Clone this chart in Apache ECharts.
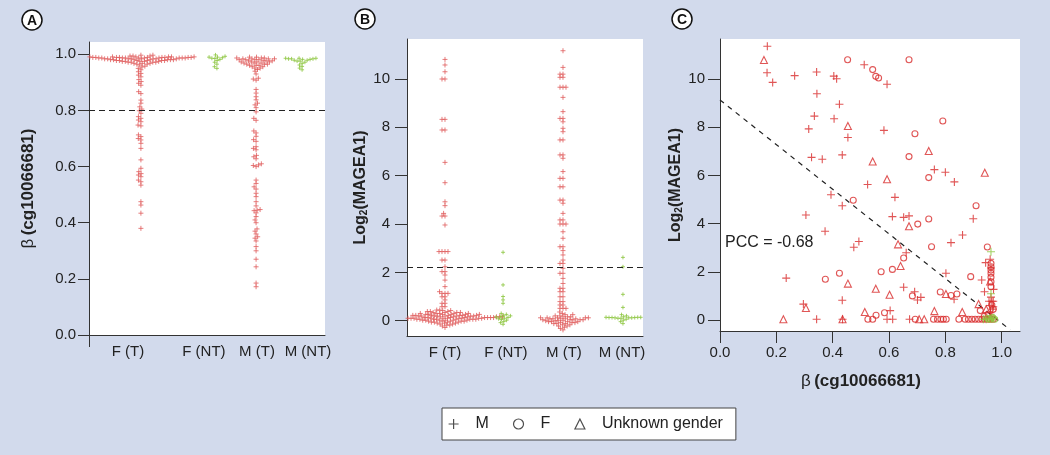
<!DOCTYPE html>
<html><head><meta charset="utf-8">
<script src="https://cdn.jsdelivr.net/npm/echarts@6/dist/echarts.min.js"></script>
<style>html,body{margin:0;padding:0;background:#d2daec;}#c{width:1050px;height:455px;}</style>
</head><body><div id="c"></div>
<script>
// ---------------- DATA ----------------
const groupLabels = ['F (T)', 'F (NT)', 'M (T)', 'M (NT)'];
const betaTicks = [0, 0.2, 0.4, 0.6, 0.8, 1.0];
const logTicks = [0, 2, 4, 6, 8, 10];
const betaCutoff = 0.8;
const logCutoff = 2.23;

// Panel A: beta (cg10066681)
const betaFT = [0.997,0.997,0.994,0.994,0.994,
  0.991,0.991,0.991,0.991,0.991,0.991,
  0.989,0.989,0.989,0.989,0.989,0.989,0.989,0.989,0.989,
  0.987,0.987,0.987,0.987,0.987,0.987,0.987,0.987,0.987,0.987,
  0.984,0.984,0.984,0.984,0.984,0.984,0.984,0.984,
  0.981,0.981,0.981,0.981,0.981,0.981,0.981,
  0.978,0.978,0.978,0.978,0.978,0.978,
  0.975,0.975,0.975,0.975,0.975,
  0.972,0.972,0.972,0.972,0.968,0.968,0.968,0.965,0.965,
  0.962,0.958,0.955,0.95,0.945,0.938,0.932,0.926,0.92,0.91,0.903,0.897,0.89,0.867,0.86,
  0.837,0.826,0.813,0.805,0.799,0.79,0.778,0.772,0.766,0.76,0.748,0.745,0.713,0.707,0.7,
  0.695,0.683,0.665,0.624,0.594,0.582,0.575,0.57,0.564,0.552,0.546,0.534,0.475,0.463,0.434,0.38];
const betaFNT = [0.998,0.993,0.99,0.99,0.988,0.986,0.985,0.982,0.978,0.972,0.965,0.956,0.95];
const betaMT = [0.99,0.99,0.987,0.987,0.987,
  0.984,0.984,0.984,0.984,0.981,0.981,0.981,0.981,
  0.977,0.977,0.977,0.977,0.973,0.973,0.973,0.973,
  0.969,0.969,0.969,0.965,0.965,0.965,0.961,0.961,0.961,0.956,0.956,0.951,0.951,0.946,0.94,
  0.93,0.915,0.912,0.908,0.875,0.862,0.849,0.838,0.826,0.82,0.81,0.795,0.772,0.765,0.727,
  0.72,0.708,0.696,0.69,0.671,0.665,0.66,0.64,0.635,0.628,0.61,0.606,0.604,0.6,0.552,0.54,
  0.528,0.52,0.505,0.493,0.475,0.46,0.447,0.445,0.443,0.435,0.422,0.41,0.4,0.378,0.37,0.36,
  0.35,0.345,0.335,0.315,0.3,0.27,0.243,0.185,0.172];
const betaMNT = [0.986,0.986,0.986,0.984,0.984,0.984,0.982,0.982,0.979,0.979,0.976,0.976,
  0.972,0.968,0.962,0.957,0.951,0.945];

// Panel B: log2(MAGEA1)
const logFT = [-0.28,-0.22,-0.18,-0.18,-0.14,-0.14,-0.1,-0.1,-0.1,-0.06,-0.06,-0.06,-0.06,
  -0.02,-0.02,-0.02,-0.02,-0.02,0.02,0.02,0.02,0.02,0.02,0.02,
  0.06,0.06,0.06,0.06,0.06,0.06,0.06,0.06,
  0.1,0.1,0.1,0.1,0.1,0.1,0.1,0.1,0.1,0.1,
  0.13,0.13,0.13,0.13,0.13,0.13,0.13,0.13,0.13,0.13,0.13,
  0.16,0.16,0.16,0.16,0.16,0.16,0.16,0.16,0.16,0.16,
  0.19,0.19,0.19,0.19,0.19,0.19,0.19,0.19,
  0.22,0.22,0.22,0.22,0.22,0.22,0.22,
  0.26,0.26,0.26,0.26,0.26,0.26,0.3,0.3,0.3,0.3,0.3,
  0.34,0.34,0.34,0.34,0.38,0.38,0.38,0.42,0.42,
  0.44,0.44,0.58,0.58,0.72,0.72,0.86,0.99,0.99,1.13,1.13,1.13,1.2,1.41,1.68,1.89,2.03,2.03,
  2.23,2.51,2.51,2.86,2.86,2.86,2.86,3.96,4.33,4.33,4.44,4.76,4.92,5.71,6.55,7.89,7.89,
  8.33,8.33,10.0,10.0,10.3,10.58,10.81];
const logFNT = [2.83,1.48,1.0,0.86,0.72,0.3,0.26,0.22,0.2,0.17,0.15,0.13,0.1,0.08,0.05,0.02,
  -0.03,-0.08,-0.15];
const logMT = [-0.38,-0.32,-0.27,-0.22,-0.22,-0.17,-0.17,-0.12,-0.12,-0.12,-0.08,-0.08,-0.08,
  -0.04,-0.04,-0.04,-0.04,0.0,0.0,0.0,0.0,0.04,0.04,0.04,0.04,0.04,
  0.08,0.08,0.08,0.08,0.08,0.12,0.12,0.12,0.12,0.12,0.16,0.16,0.16,0.2,0.2,0.25,0.25,0.3,0.36,
  0.51,0.51,0.51,0.65,0.65,0.79,0.79,0.99,0.99,1.2,1.2,1.34,1.34,1.54,1.75,1.96,1.96,2.17,
  2.37,2.37,2.51,2.72,2.9,3.06,3.06,3.41,3.68,4.0,4.0,4.0,4.17,4.17,4.44,4.86,4.99,4.99,
  5.54,5.54,5.89,5.89,6.17,6.72,6.86,6.86,7.48,7.48,7.82,7.96,8.23,8.37,8.37,8.65,9.24,
  9.66,9.66,9.66,10.07,10.07,10.2,10.2,10.48,11.17];
const logMNT = [2.62,2.23,1.09,0.55,0.25,0.2,0.16,0.14,0.14,0.14,0.13,0.13,0.13,0.12,0.12,
  0.12,0.1,0.1,0.06,0.02,-0.04,-0.12];

// Panel C: [beta, log2(MAGEA1)]
const scatM = [[0.168,11.36],[0.167,10.26],[0.187,9.86],[0.265,10.14],[0.343,10.29],[0.344,9.39],
  [0.335,8.46],[0.315,7.93],[0.325,6.75],[0.363,6.67],[0.404,10.12],[0.414,10.01],[0.424,8.95],
  [0.405,8.35],[0.454,7.57],[0.434,6.85],[0.394,5.2],[0.434,4.74],[0.305,4.36],[0.512,10.59],
  [0.593,9.78],[0.582,7.87],[0.524,5.62],[0.621,5.09],[0.612,4.29],[0.652,4.26],[0.671,4.32],
  [0.761,6.24],[0.8,6.13],[0.832,5.73],[0.899,4.2],[0.235,1.74],[0.373,3.68],[0.475,3.02],
  [0.493,3.26],[0.434,0.82],[0.296,0.66],[0.343,0.03],[0.593,0.03],[0.613,0.03],[0.673,0.03],
  [0.604,0.39],[0.661,2.79],[0.652,1.36],[0.691,1.17],[0.701,0.83],[0.713,0.94],[0.802,1.94],
  [0.831,0.86],[0.82,3.21],[0.861,3.53],[0.929,1.66],[0.939,1.17],[0.943,2.38],[0.959,2.52],
  [0.971,1.27],[0.435,0.03],[0.962,2.16],[0.955,0.78],[0.965,0.78],[0.97,0.78],[0.958,0.6],
  [0.968,0.45],[0.96,0.3],[0.965,0.15],[0.958,0.08],[0.97,0.55],[0.962,0.95]];
const scatF = [[0.453,10.8],[0.542,10.39],[0.553,10.11],[0.563,10.04],[0.671,10.8],[0.791,8.26],
  [0.692,7.73],[0.671,6.78],[0.741,5.91],[0.473,4.97],[0.702,3.98],[0.741,4.19],[0.909,4.74],
  [0.751,3.04],[0.949,3.03],[0.374,1.69],[0.424,1.94],[0.525,0.03],[0.542,0.03],[0.554,0.2],
  [0.572,2.0],[0.584,0.3],[0.612,2.1],[0.652,2.57],[0.683,1.0],[0.693,0.03],[0.758,0.03],
  [0.772,0.03],[0.784,0.03],[0.793,0.03],[0.803,0.03],[0.782,1.16],[0.82,1.02],[0.841,1.08],
  [0.848,0.03],[0.87,0.03],[0.882,0.03],[0.894,0.03],[0.906,0.03],[0.918,0.03],[0.89,1.8],
  [0.924,0.39],[0.962,2.35],[0.962,2.21],[0.962,2.07],[0.962,1.94],[0.962,1.77],[0.962,1.59],
  [0.962,1.38],[0.93,0.03],[0.94,0.03],[0.95,0.03],[0.96,0.03],[0.97,0.45],[0.965,0.62],
  [0.952,0.25],[0.97,0.03],[0.938,0.15]];
const scatU = [[0.156,10.79],[0.454,8.05],[0.542,6.58],[0.593,5.84],[0.741,7.01],[0.94,6.11],
  [0.671,3.89],[0.632,3.14],[0.641,2.24],[0.454,1.51],[0.553,1.3],[0.602,1.05],[0.514,0.33],
  [0.761,0.37],[0.86,0.33],[0.918,0.66],[0.225,0.03],[0.305,0.5],[0.707,0.03],[0.725,0.03],
  [0.802,1.08],[0.435,0.03],[0.959,1.6],[0.945,0.45]];
const scatMN = [[0.962,2.83],[0.962,1.09],[0.955,0.05],[0.965,0.05],[0.972,0.08],[0.945,0.03],[0.935,0.03]];
const scatFN = [[0.958,0.03],[0.968,0.1],[0.95,0.06],[0.975,0.03]];
const pccText = 'PCC = -0.68';
const fitIntercept = 9.13, fitSlope = -9.26, fitXEnd = 1.03;

// ---------------- LAYOUT / STYLE ----------------
const FONT = '"Liberation Sans", Arial, Helvetica, sans-serif';
const INK = '#222';
const RED_SW = '#e05c5c', RED = '#d82c2c', GREEN = '#8cc63f';
const PLUS = 'path://M0,4L8,4M4,0L4,8';
const LA = {left: 89, top: 42, width: 236, height: 293, yMin: 0, yMax: 1.044,
  centers: [0.22, 0.542, 0.708, 0.903], labelPos: [0.165, 0.487, 0.712, 0.928]};
const LB = {left: 407, top: 39, width: 236, height: 297, yMin: -0.633, yMax: 11.655,
  centers: [0.161, 0.407, 0.661, 0.915], labelPos: [0.161, 0.419, 0.665, 0.911]};
const LC = {left: 720, top: 39, width: 300, height: 292, xMin: 0, xMax: 1.065, yMin: -0.456, yMax: 11.66};
const SW_D = 3.0; // swarm point spacing (px)

// beeswarm layout: offsets computed in pixel space, returned in axis units
function swarm(values, center, lay, d) {
  const pxX = lay.width, pxY = lay.height / (lay.yMax - lay.yMin);
  const order = values.map((v, i) => i).sort((a, b) => values[a] - values[b]);
  const placed = [], out = [];
  for (const i of order) {
    const yp = values[i] * pxY;
    const near = placed.filter(p => Math.abs(p.yp - yp) < d);
    const cands = [0];
    near.forEach(p => { const dx = Math.sqrt(d * d - (p.yp - yp) ** 2); cands.push(p.xp + dx, p.xp - dx); });
    cands.sort((a, b) => Math.abs(a) - Math.abs(b) || a - b);
    let xp = 0;
    for (const c of cands) {
      if (near.every(p => (p.xp - c) ** 2 + (p.yp - yp) ** 2 >= d * d - 1e-6)) { xp = c; break; }
    }
    placed.push({xp, yp});
    out.push([center + xp / pxX, values[i]]);
  }
  return out;
}

const lbl = {fontSize: 15, color: INK, fontFamily: FONT};
const axLine = {show: true, onZero: false, lineStyle: {color: '#333', width: 1}};
const nameRich = {
  b: {fontSize: 17, color: INK, fontFamily: FONT},
  c: {fontSize: 17, color: INK, fontFamily: FONT, fontWeight: 'bold'},
  m: {fontSize: 16, color: INK, fontFamily: FONT, fontWeight: 'bold', lineHeight: 18},
  s: {fontSize: 10, color: INK, fontFamily: FONT, fontWeight: 'bold', lineHeight: 10, verticalAlign: 'bottom'}
};
const betaName = '{b|β} {c|(cg10066681)}';
const logName = '{m|Log}{s|2}{m|(MAGEA1)}';

function catXAxis(idx, lay) {
  return {gridIndex: idx, type: 'value', min: 0, max: 1, axisLine: axLine, axisTick: {show: false},
    splitLine: {show: false},
    axisLabel: Object.assign({customValues: lay.labelPos, margin: 9,
      formatter: v => groupLabels[lay.labelPos.findIndex(p => Math.abs(p - v) < 1e-6)] || ''}, lbl)};
}

function swarmSeries(idx, data, color, size) {
  return {type: 'scatter', xAxisIndex: idx, yAxisIndex: idx, data, symbol: PLUS, symbolSize: size,
    itemStyle: {color: 'transparent', borderColor: color, borderWidth: 1}, silent: true, z: 3};
}
function cutLine(v) {
  return {silent: true, symbol: 'none', label: {show: false},
    lineStyle: {color: '#222', type: [6, 4], width: 1.2}, data: [{yAxis: v}]};
}

const sA = [
  swarmSeries(0, swarm(betaFT, LA.centers[0], LA, SW_D), RED_SW, 5),
  swarmSeries(0, swarm(betaFNT, LA.centers[1], LA, SW_D), GREEN, 4),
  swarmSeries(0, swarm(betaMT, LA.centers[2], LA, SW_D), RED_SW, 5),
  swarmSeries(0, swarm(betaMNT, LA.centers[3], LA, SW_D), GREEN, 4)
];
sA[0].markLine = cutLine(betaCutoff);
const sB = [
  swarmSeries(1, swarm(logFT, LB.centers[0], LB, SW_D), RED_SW, 5),
  swarmSeries(1, swarm(logFNT, LB.centers[1], LB, SW_D), GREEN, 4),
  swarmSeries(1, swarm(logMT, LB.centers[2], LB, SW_D), RED_SW, 5),
  swarmSeries(1, swarm(logMNT, LB.centers[3], LB, SW_D), GREEN, 4)
];
sB[0].markLine = cutLine(logCutoff);

function cSeries(name, data, symbol, size, color) {
  return {name, type: 'scatter', xAxisIndex: 2, yAxisIndex: 2, data, symbol, symbolSize: size,
    itemStyle: {color: 'transparent', borderColor: color, borderWidth: 1.1}, silent: true, z: 3};
}
const sC = [
  cSeries('M', scatM, PLUS, 8, RED),
  cSeries('F', scatF, 'circle', 6, RED),
  cSeries('Unknown gender', scatU, 'triangle', 7, RED),
  cSeries('M (NT)', scatMN, PLUS, 8, GREEN),
  cSeries('F (NT)', scatFN, 'circle', 6, GREEN),
  {type: 'line', xAxisIndex: 2, yAxisIndex: 2, symbol: 'none', silent: true, z: 2,
    lineStyle: {color: '#222', type: [5, 5], width: 1.2},
    data: [[0, fitIntercept], [fitXEnd, fitIntercept + fitSlope * fitXEnd]]}
];

function panelLetter(ch, cx, cy) {
  return {type: 'group', children: [
    {type: 'circle', shape: {cx, cy, r: 10}, style: {fill: '#fff', stroke: '#111', lineWidth: 1.5}},
    {type: 'text', x: cx, y: cy + 1, style: {text: ch, fill: '#111', font: 'bold 14px ' + FONT, align: 'center', verticalAlign: 'middle'}}
  ]};
}

const chart = echarts.init(document.getElementById('c'), null, {renderer: 'canvas'});
chart.setOption({
  backgroundColor: '#d2daec',
  animation: false,
  grid: [
    {left: LA.left, top: LA.top, width: LA.width, height: LA.height, show: true, backgroundColor: '#fff', borderWidth: 0},
    {left: LB.left, top: LB.top, width: LB.width, height: LB.height, show: true, backgroundColor: '#fff', borderWidth: 0},
    {left: LC.left, top: LC.top, width: LC.width, height: LC.height, show: true, backgroundColor: '#fff', borderWidth: 0}
  ],
  xAxis: [
    catXAxis(0, LA),
    catXAxis(1, LB),
    {gridIndex: 2, type: 'value', min: LC.xMin, max: LC.xMax, axisLine: axLine, splitLine: {show: false},
      axisTick: {show: true, length: 12, customValues: betaTicks, lineStyle: {color: '#333'}},
      axisLabel: Object.assign({customValues: betaTicks, margin: 14, formatter: v => v.toFixed(1)}, lbl),
      name: betaName, nameLocation: 'middle', nameGap: 42,
      nameTextStyle: {rich: nameRich, padding: [0, 18, 0, 0]}}
  ],
  yAxis: [
    {gridIndex: 0, type: 'value', min: LA.yMin, max: LA.yMax, axisLine: axLine, splitLine: {show: false},
      axisTick: {show: true, length: 11, customValues: betaTicks, lineStyle: {color: '#333'}},
      axisLabel: Object.assign({customValues: betaTicks, margin: 13, formatter: v => v.toFixed(1)}, lbl),
      name: betaName, nameLocation: 'middle', nameRotate: 90, nameGap: 52, nameTextStyle: {rich: nameRich}},
    {gridIndex: 1, type: 'value', min: LB.yMin, max: LB.yMax, axisLine: axLine, splitLine: {show: false},
      axisTick: {show: true, length: 12, customValues: logTicks, lineStyle: {color: '#333'}},
      axisLabel: Object.assign({customValues: logTicks, margin: 17, formatter: v => String(v)}, lbl),
      name: logName, nameLocation: 'middle', nameRotate: 90, nameGap: 36, nameTextStyle: {rich: nameRich}},
    {gridIndex: 2, type: 'value', min: LC.yMin, max: LC.yMax, axisLine: axLine, splitLine: {show: false},
      axisTick: {show: true, length: 12, customValues: logTicks, lineStyle: {color: '#333'}},
      axisLabel: Object.assign({customValues: logTicks, margin: 15, formatter: v => String(v)}, lbl),
      name: logName, nameLocation: 'middle', nameRotate: 90, nameGap: 29, nameTextStyle: {rich: nameRich}}
  ],
  legend: {
    left: 442, top: 408, orient: 'horizontal', selectedMode: false,
    backgroundColor: '#fff', borderColor: '#444', borderWidth: 1, borderRadius: 0,
    padding: [8, 13, 8, 6], itemGap: 24, itemWidth: 10, itemHeight: 10,
    textStyle: {fontSize: 16, color: INK, fontFamily: FONT, padding: [0, 0, 0, 12]},
    data: [
      {name: 'M', icon: PLUS, itemStyle: {color: 'transparent', borderColor: '#222', borderWidth: 1.2}},
      {name: 'F', icon: 'circle', itemStyle: {color: 'transparent', borderColor: '#222', borderWidth: 1.2}},
      {name: 'Unknown gender', icon: 'triangle', itemStyle: {color: 'transparent', borderColor: '#222', borderWidth: 1.2}}
    ]
  },
  graphic: [
    panelLetter('A', 32, 20), panelLetter('B', 365, 19), panelLetter('C', 682, 19),
    {type: 'line', shape: {x1: LA.left + 0.5, y1: LA.top + LA.height, x2: LA.left + 0.5, y2: LA.top + LA.height + 12},
      style: {stroke: '#333', lineWidth: 1}},
    {type: 'text', x: 725, y: 243, style: {text: pccText, fill: INK, font: '16px ' + FONT, verticalAlign: 'middle'}}
  ],
  series: [...sA, ...sB, ...sC]
});
</script></body></html>
